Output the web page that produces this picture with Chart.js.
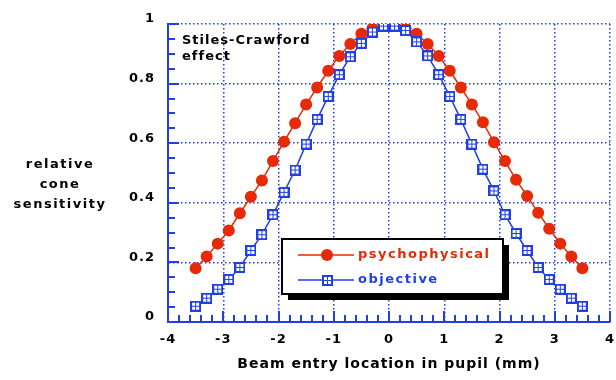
<!DOCTYPE html>
<html>
<head>
<meta charset="utf-8">
<script src="https://cdn.jsdelivr.net/npm/chart.js@4"></script>
<style>
  body { margin: 0; background: #fff; }
  #wrap { width: 616px; height: 380px; }
</style>
</head>
<body>
<div id="wrap"><canvas id="myChart" width="616" height="380"></canvas></div>
<script>
// beam entry positions (mm) and measured sensitivities
var xValues = [-3.5, -3.3, -3.1, -2.9, -2.7, -2.5, -2.3, -2.1, -1.9, -1.7, -1.5, -1.3,
  -1.1, -0.9, -0.7, -0.5, -0.3, -0.1, 0.1, 0.3, 0.5, 0.7, 0.9, 1.1,
  1.3, 1.5, 1.7, 1.9, 2.1, 2.3, 2.5, 2.7, 2.9, 3.1, 3.3, 3.5];
var psychophysical = [0.18, 0.22, 0.263, 0.307, 0.365, 0.42, 0.475, 0.54, 0.605, 0.667, 0.73, 0.787,
  0.843, 0.893, 0.933, 0.967, 0.985, 0.997, 0.997, 0.985, 0.967, 0.933, 0.893, 0.843,
  0.787, 0.73, 0.67, 0.603, 0.54, 0.477, 0.423, 0.367, 0.313, 0.263, 0.22, 0.18];
var objective = [0.053, 0.08, 0.11, 0.143, 0.183, 0.24, 0.293, 0.36, 0.435, 0.51, 0.597, 0.68,
  0.757, 0.83, 0.89, 0.935, 0.973, 0.993, 0.993, 0.978, 0.94, 0.893, 0.83, 0.757,
  0.68, 0.597, 0.513, 0.44, 0.36, 0.297, 0.24, 0.183, 0.143, 0.11, 0.08, 0.053];
var xTickLabels = ['-4', '-3', '-2', '-1', '0', '1', '2', '3', '4'];
var yTickLabels = ['0', '0.2', '0.4', '0.6', '0.8', '1'];
var seriesNames = ['psychophysical', 'objective'];
var xTitle = 'Beam entry location in pupil (mm)';
var yTitle = ['relative', 'cone', 'sensitivity'];
var noteLines = ['Stiles-Crawford', 'effect'];

var RED = '#e52a05';
var BLUE = '#2040e4';
var FONT = '"DejaVu Sans", sans-serif';

function makeSquare() {
  var c = document.createElement('canvas');
  c.width = 11;
  c.height = 11;
  var g = c.getContext('2d');
  g.fillStyle = BLUE;
  g.fillRect(0, 0, 11, 11);
  g.fillStyle = '#fff';
  [[2, 2], [6, 2], [2, 6], [6, 6]].forEach(function(p) {
    g.fillRect(p[0], p[1], 3, 3);
  });
  return c;
}
var squareImg = makeSquare();

function toPoints(ys) {
  return xValues.map(function(x, i) { return { x: x, y: ys[i] }; });
}

// wider letter spacing for all the text, like the old bitmap font
var spacing = {
  id: 'spacing',
  beforeDraw: function(chart) { chart.ctx.letterSpacing = '1px'; },
  afterDraw: function(chart) { chart.ctx.letterSpacing = '0px'; }
};

// inward minor/major tick marks along both axes
var axisTicks = {
  id: 'axisTicks',
  beforeDatasetsDraw: function(chart) {
    var ctx = chart.ctx, xs = chart.scales.x, ys = chart.scales.y, a = chart.chartArea;
    ctx.save();
    ctx.strokeStyle = BLUE;
    ctx.lineWidth = 2;
    ctx.beginPath();
    for (var i = 1; i <= 40; i++) {
      var px = Math.round(xs.getPixelForValue(-4 + i * 0.2));
      var len = i % 5 === 0 ? 11 : 7;
      ctx.moveTo(px, a.bottom);
      ctx.lineTo(px, a.bottom - len);
    }
    for (var j = 1; j <= 20; j++) {
      var py = Math.round(ys.getPixelForValue(j * 0.05));
      var l2 = j % 4 === 0 ? 11 : 7;
      ctx.moveTo(a.left, py);
      ctx.lineTo(a.left + l2, py);
    }
    ctx.stroke();
    ctx.restore();
  }
};

// legend box, note and horizontal y title
var extras = {
  id: 'extras',
  afterDraw: function(chart) {
    var ctx = chart.ctx;
    ctx.save();
    ctx.letterSpacing = '1.5px';

    // y title
    ctx.fillStyle = '#000';
    ctx.font = 'bold 13px ' + FONT;
    ctx.textAlign = 'center';
    ctx.textBaseline = 'middle';
    yTitle.forEach(function(t, i) { ctx.fillText(t, 60, 165 + i * 20); });

    // note
    ctx.letterSpacing = '1px';
    ctx.textAlign = 'left';
    noteLines.forEach(function(t, i) { ctx.fillText(t, 182, 41 + i * 16); });

    // legend
    var bx = 282, by = 239, bw = 221, bh = 55;
    ctx.fillStyle = '#000';
    ctx.fillRect(bx + 6, by + 6, bw, bh);
    ctx.fillStyle = '#fff';
    ctx.fillRect(bx, by, bw, bh);
    ctx.strokeStyle = '#000';
    ctx.lineWidth = 2;
    ctx.strokeRect(bx, by, bw, bh);

    var rows = [{ y: 255, color: RED }, { y: 280, color: BLUE }];
    ctx.letterSpacing = '1.5px';
    rows.forEach(function(r, i) {
      ctx.strokeStyle = r.color;
      ctx.lineWidth = 1.5;
      ctx.beginPath();
      ctx.moveTo(298, r.y);
      ctx.lineTo(354, r.y);
      ctx.stroke();
      if (i === 0) {
        ctx.fillStyle = RED;
        ctx.beginPath();
        ctx.arc(327, r.y, 6, 0, Math.PI * 2);
        ctx.fill();
      } else {
        ctx.drawImage(squareImg, 322, r.y - 5);
      }
      ctx.fillStyle = r.color;
      ctx.font = 'bold 13px ' + FONT;
      ctx.fillText(seriesNames[i], 358, r.y);
    });
    ctx.restore();
  }
};

const ctx = document.getElementById('myChart').getContext('2d');
var chart = new Chart(ctx, {
  type: 'scatter',
  data: {
    datasets: [
      {
        label: seriesNames[0],
        data: toPoints(psychophysical),
        showLine: true,
        borderColor: RED,
        backgroundColor: RED,
        borderWidth: 1.5,
        pointStyle: 'circle',
        pointRadius: 6,
        pointBorderWidth: 0,
        order: 1
      },
      {
        label: seriesNames[1],
        data: toPoints(objective),
        showLine: true,
        borderColor: BLUE,
        backgroundColor: BLUE,
        borderWidth: 1.5,
        pointStyle: squareImg,
        order: 0
      }
    ]
  },
  options: {
    responsive: false,
    animation: false,
    devicePixelRatio: 1,
    layout: { padding: { top: 24, right: 2, bottom: 0, left: 0 } },
    plugins: { legend: { display: false }, tooltip: { enabled: false } },
    scales: {
      x: {
        type: 'linear',
        min: -4,
        max: 4,
        ticks: {
          stepSize: 1,
          padding: 10,
          color: '#000',
          font: { family: FONT, size: 13, weight: 'bold' },
          callback: function(value, index) { return xTickLabels[index]; }
        },
        grid: { color: BLUE, lineWidth: 1.5, drawTicks: false },
        border: { color: BLUE, width: 2, dash: [1.5, 2.5] },
        title: {
          display: true,
          text: xTitle,
          color: '#000',
          font: { family: FONT, size: 14, weight: 'bold' },
          padding: { top: 0, bottom: 7 }
        },
        afterFit: function(scale) {
          scale.height = 58;
          scale.paddingLeft = 0;
          scale.paddingRight = 0;
        }
      },
      y: {
        type: 'linear',
        min: 0,
        max: 1,
        ticks: {
          stepSize: 0.2,
          padding: 13,
          color: '#000',
          font: { family: FONT, size: 13, weight: 'bold', lineHeight: '10px' },
          callback: function(value, index) { return [yTickLabels[index], '']; }
        },
        grid: { color: BLUE, lineWidth: 1.5, drawTicks: false },
        border: { color: BLUE, width: 2, dash: [1.5, 2.5] },
        afterFit: function(scale) {
          scale.width = 168;
        }
      }
    }
  },
  plugins: [spacing, axisTicks, extras]
});
</script>
</body>
</html>
